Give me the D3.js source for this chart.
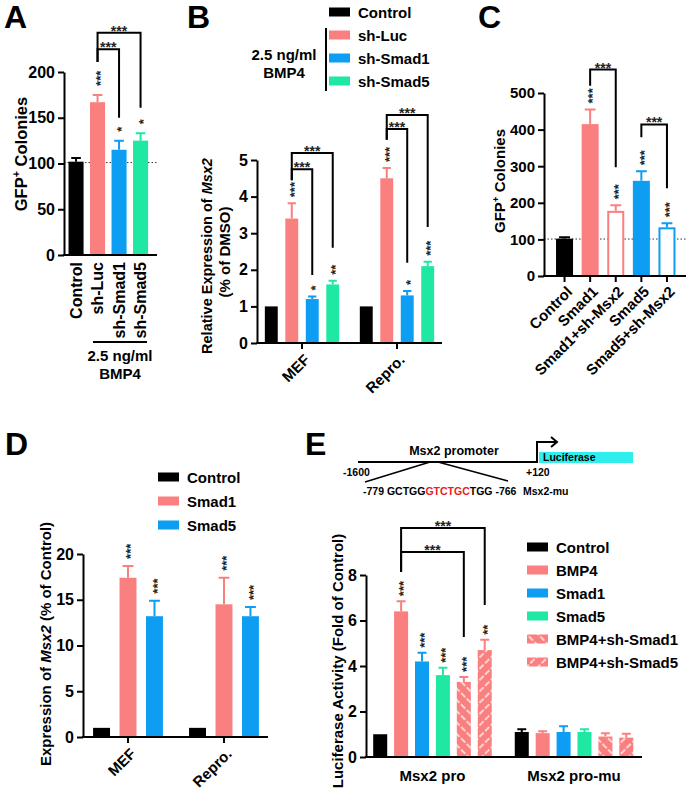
<!DOCTYPE html>
<html>
<head>
<meta charset="utf-8">
<script src="https://cdn.jsdelivr.net/npm/d3@7"></script>
<style>
  body { margin: 0; background: #fff; }
  svg { display: block; }
</style>
</head>
<body>
<script>
// ---- data ----
const aCats = ['Control', 'sh-Luc', 'sh-Smad1', 'sh-Smad5']
const aMean = [102, 167, 115, 125]
const aErr = [4, 8, 10, 8]
const aStars = ['', '***', '*', '*']

const bGroups = ['MEF', 'Repro.']
const bSeries = ['Control', 'sh-Luc', 'sh-Smad1', 'sh-Smad5']
const bMean = [[1, 3.4, 1.2, 1.6], [1, 4.5, 1.3, 2.1]]
const bErr = [[0, 0.42, 0.07, 0.1], [0, 0.28, 0.12, 0.12]]
const bStars = [['', '***', '*', '**'], ['', '***', '*', '***']]

const cCats = ['Control', 'Smad1', 'Smad1+sh-Msx2', 'Smad5', 'Smad5+sh-Msx2']
const cMean = [102, 415, 178, 260, 133]
const cErr = [4, 40, 15, 26, 11]
const cStars = ['', '***', '***', '***', '***']

const dGroups = ['MEF', 'Repro.']
const dSeries = ['Control', 'Smad1', 'Smad5']
const dMean = [[1, 17.4, 13.2], [1, 14.5, 13.2]]
const dErr = [[0, 1.3, 1.7], [0, 2.9, 1.0]]
const dStars = [['', '***', '***'], ['', '***', '***']]

const eGroups = ['Msx2 pro', 'Msx2 pro-mu']
const eSeries = ['Control', 'BMP4', 'Smad1', 'Smad5', 'BMP4+sh-Smad1', 'BMP4+sh-Smad5']
const eMean = [[1, 6.4, 4.2, 3.6, 3.3, 4.7], [1.1, 1.05, 1.1, 1.1, 0.9, 0.85]]
const eErr = [[0, 0.45, 0.38, 0.32, 0.22, 0.45], [0.12, 0.08, 0.25, 0.12, 0.14, 0.17]]
const eStars = [['', '***', '***', '***', '***', '**'], ['', '', '', '', '', '']]

// comparison brackets [from, to, level, left leg end, right leg end] (data units)
const aBrackets = [[1, 3, 243, 211, 161], [1, 2, 225, 211, 150]]
const bBrackets = [[0, 1, 3, 5.19, 4.45, 2.6], [0, 1, 2, 4.75, 4.45, 1.86],
  [1, 1, 3, 6.23, 5.55, 3.17], [1, 1, 2, 5.85, 5.55, 2.19]]
const cBrackets = [[1, 2, 564, 520, 297], [3, 4, 414, 379, 240]]
const eBrackets = [[0, 1, 5, 10.07, 8.13, 6.68], [0, 1, 4, 9.01, 8.13, 5.27]]

// ---- style ----
const font = 'Liberation Sans, Arial, Helvetica, sans-serif'
const black = '#000000'
const salmon = '#fa7f7f'
const blue = '#0d9df2'
const green = '#1fe8a3'
const cyan = '#30eeee'

const svg = d3.select('body').append('svg')
  .attr('width', 686).attr('height', 794)
  .style('font-family', font).style('font-weight', 'bold')

const defs = svg.append('defs')
function hatch (id, angle) {
  const p = defs.append('pattern').attr('id', id)
    .attr('patternUnits', 'userSpaceOnUse')
    .attr('width', 8).attr('height', 8)
    .attr('patternTransform', 'rotate(' + angle + ')')
  p.append('rect').attr('width', 8).attr('height', 8).attr('fill', salmon)
  p.append('line').attr('x1', 4).attr('x2', 4).attr('y1', 0).attr('y2', 8)
    .attr('stroke', '#fff').attr('stroke-width', 1.3).attr('stroke-dasharray', '6,2')
}
hatch('hatchA', -45)
hatch('hatchB', 45)

// ---- helpers ----
function leftAxis (y, x0, values, size) {
  const ax = svg.append('g').attr('transform', 'translate(' + x0 + ',0)')
    .call(d3.axisLeft(y).tickValues(values).tickFormat(d3.format('d'))
      .tickSize(6).tickSizeOuter(0).tickPadding(3))
    .attr('font-family', font).attr('font-size', size)
  ax.select('.domain').attr('stroke-width', 2)
  ax.selectAll('.tick line').attr('stroke-width', 2)
  ax.selectAll('.tick text').attr('fill', '#000')
}

function baseLine (x0, x1, yy) {
  svg.append('line').attr('x1', x0 - 1).attr('x2', x1).attr('y1', yy).attr('y2', yy)
    .attr('stroke', '#000').attr('stroke-width', 2)
}

function ticksDown (xs, yy) {
  svg.selectAll(null).data(xs).enter().append('line')
    .attr('x1', d => d).attr('x2', d => d).attr('y1', yy).attr('y2', yy + 6)
    .attr('stroke', '#000').attr('stroke-width', 2)
}

function dotted (x0, x1, yy) {
  svg.append('line').attr('x1', x0).attr('x2', x1).attr('y1', yy).attr('y2', yy)
    .attr('stroke', '#333').attr('stroke-width', 1).attr('stroke-dasharray', '1.5,2')
}

function barSet (rows, y, gap) {
  const g = svg.append('g')
  g.selectAll(null).data(rows).enter().append('rect')
    .attr('x', d => d.open ? d.x + 1 : d.x)
    .attr('y', d => y(d.v) + (d.open ? 1 : 0))
    .attr('width', d => d.open ? d.w - 2 : d.w)
    .attr('height', d => y(0) - y(d.v) - (d.open ? 1 : 0))
    .attr('fill', d => d.fill)
    .attr('stroke', d => d.open ? d.line : 'none')
    .attr('stroke-width', 2)
  g.selectAll(null).data(rows.filter(d => d.e > 0)).enter().append('path')
    .attr('d', d => {
      const cx = d.x + d.w / 2
      const t = y(d.v + d.e)
      const hw = d.w * 0.32
      return 'M' + cx + ',' + y(d.v) + 'V' + t + 'M' + (cx - hw) + ',' + t + 'H' + (cx + hw)
    })
    .attr('fill', 'none').attr('stroke', d => d.line).attr('stroke-width', 2)
  g.selectAll(null).data(rows.filter(d => d.star)).enter().append('text')
    .attr('transform', d => 'translate(' + (d.x + d.w / 2) + ',' + (y(d.v + d.e) - gap) + ') rotate(-90)')
    .attr('dy', '0.56em').attr('font-size', 13).attr('fill', '#222')
    .text(d => d.star)
}

function bracket (x1, x2, yl, ya, yb) {
  svg.append('path').attr('d', 'M' + x1 + ',' + ya + 'V' + yl + 'H' + x2 + 'V' + yb)
    .attr('fill', 'none').attr('stroke', '#000').attr('stroke-width', 2)
  svg.append('text').attr('x', (x1 + x2) / 2).attr('y', yl + 3)
    .attr('text-anchor', 'middle').attr('font-size', 14).attr('fill', '#222').text('***')
}

function legend (names, fills, x, y0, step, size) {
  const g = svg.append('g')
  names.forEach((n, i) => {
    const cy = y0 + i * step
    g.append('rect').attr('x', x).attr('y', cy - 4.5).attr('width', 21).attr('height', 9).attr('fill', fills[i])
    g.append('text').attr('x', x + 29).attr('y', cy + 5.5).attr('font-size', size).text(n)
  })
}

function yLabel (x, cy, size, parts) {
  const t = svg.append('text').attr('transform', 'translate(' + x + ',' + cy + ') rotate(-90)')
    .attr('text-anchor', 'middle').attr('font-size', size)
  parts.forEach(p => {
    const s = t.append('tspan').text(p.t)
    if (p.i) s.attr('font-style', 'italic')
    if (p.sup) s.attr('font-size', size * 0.65).attr('dy', -size * 0.4)
    if (p.down) s.attr('dy', size * 0.4)
  })
}

function angledLabels (xs, names, yy, size) {
  svg.selectAll(null).data(names).enter().append('text')
    .attr('transform', (d, i) => 'translate(' + (xs[i] + 5) + ',' + yy + ') rotate(-45)')
    .attr('text-anchor', 'end').attr('dy', '0.35em').attr('font-size', size)
    .text(d => d)
}

function panelLetter (t, x, y) {
  svg.append('text').attr('x', x).attr('y', y).attr('font-size', 32).text(t)
}

// ---- panel A ----
{
  const y = d3.scaleLinear().domain([0, 200]).range([255, 72])
  const x = d3.scaleBand().domain(aCats).range([64, 152.6]).paddingInner(0.3).paddingOuter(0.21)
  const cols = [black, salmon, blue, green]
  dotted(64, 157, y(101))
  barSet(aCats.map((c, i) => ({ x: x(c), w: x.bandwidth(), v: aMean[i], e: aErr[i], fill: cols[i], line: cols[i], star: aStars[i] })), y, 9)
  leftAxis(y, 64, [0, 50, 100, 150, 200], 16)
  baseLine(64, 157, y(0))
  const cx = c => x(aCats[c]) + x.bandwidth() / 2
  aBrackets.forEach(b => bracket(cx(b[0]), cx(b[1]), y(b[2]), y(b[3]), y(b[4])))
  svg.selectAll(null).data(aCats).enter().append('text')
    .attr('transform', d => 'translate(' + (x(d) + x.bandwidth() / 2) + ',262) rotate(-90)')
    .attr('text-anchor', 'end').attr('dy', '0.35em').attr('font-size', 16).text(d => d)
  svg.append('line').attr('x1', 93).attr('x2', 147).attr('y1', 342).attr('y2', 342)
    .attr('stroke', '#000').attr('stroke-width', 2)
  svg.append('text').attr('x', 120).attr('y', 361).attr('text-anchor', 'middle').attr('font-size', 15).text('2.5 ng/ml')
  svg.append('text').attr('x', 120).attr('y', 379).attr('text-anchor', 'middle').attr('font-size', 15).text('BMP4')
  yLabel(27, 154, 16.5, [{ t: 'GFP' }, { t: '+', sup: true }, { t: ' Colonies', down: true }])
  panelLetter('A', 4, 28)
}

// ---- panel B ----
{
  const y = d3.scaleLinear().domain([0, 5]).range([343, 160])
  const x0 = d3.scaleBand().domain(bGroups).range([257, 442]).paddingInner(0.2).paddingOuter(0.074)
  const x1 = d3.scaleBand().domain(bSeries).range([0, x0.bandwidth()]).paddingInner(0.37).paddingOuter(0.04)
  const cols = [black, salmon, blue, green]
  const rows = bGroups.flatMap((gn, gi) => bSeries.map((s, si) => ({
    x: x0(gn) + x1(s), w: x1.bandwidth(), v: bMean[gi][si], e: bErr[gi][si], fill: cols[si], line: cols[si], star: bStars[gi][si]
  })))
  barSet(rows, y, 6)
  leftAxis(y, 257, [0, 1, 2, 3, 4, 5], 16)
  baseLine(257, 442, y(0))
  const gc = bGroups.map(g => x0(g) + x0.bandwidth() / 2)
  ticksDown(gc, y(0))
  angledLabels(gc, bGroups, y(0) + 14, 15)
  const cx = (g, s) => x0(bGroups[g]) + x1(bSeries[s]) + x1.bandwidth() / 2
  bBrackets.forEach(b => bracket(cx(b[0], b[1]), cx(b[0], b[2]), y(b[3]), y(b[4]), y(b[5])))
  yLabel(212, 256, 14.5, [{ t: 'Relative Expression of ' }, { t: 'Msx2', i: true }])
  yLabel(230, 252, 15, [{ t: '(% of DMSO)' }])
  legend(bSeries, cols, 329, 12, 23, 15)
  svg.append('line').attr('x1', 326).attr('x2', 326).attr('y1', 28).attr('y2', 91)
    .attr('stroke', '#000').attr('stroke-width', 2)
  svg.append('text').attr('x', 284).attr('y', 60).attr('text-anchor', 'middle').attr('font-size', 15).text('2.5 ng/ml')
  svg.append('text').attr('x', 284).attr('y', 78).attr('text-anchor', 'middle').attr('font-size', 15).text('BMP4')
  panelLetter('B', 187, 28)
}

// ---- panel C ----
{
  const y = d3.scaleLinear().domain([0, 500]).range([276, 93])
  const x = d3.scaleBand().domain(cCats).range([544, 687.5]).paddingInner(0.336).paddingOuter(0.47)
  const fills = [black, salmon, '#fff', blue, '#fff']
  const lines = [black, salmon, salmon, blue, blue]
  dotted(544, 686, y(101))
  barSet(cCats.map((c, i) => ({ x: x(c), w: x.bandwidth(), v: cMean[i], e: cErr[i], fill: fills[i], line: lines[i], open: fills[i] === '#fff', star: cStars[i] })), y, 6)
  leftAxis(y, 544, [0, 100, 200, 300, 400, 500], 15)
  baseLine(544, 686, y(0))
  const cs = cCats.map(c => x(c) + x.bandwidth() / 2)
  ticksDown(cs, y(0))
  angledLabels(cs, cCats, y(0) + 13, 15)
  cBrackets.forEach(b => bracket(cs[b[0]], cs[b[1]], y(b[2]), y(b[3]), y(b[4])))
  yLabel(505, 181, 15, [{ t: 'GFP' }, { t: '+', sup: true }, { t: ' Colonies', down: true }])
  panelLetter('C', 478, 28)
}

// ---- panel D ----
{
  const y = d3.scaleLinear().domain([0, 20]).range([737, 554])
  const x0 = d3.scaleBand().domain(dGroups).range([83, 269]).paddingInner(0.25).paddingOuter(0.094)
  const x1 = d3.scaleBand().domain(dSeries).range([0, x0.bandwidth()]).paddingInner(0.36).paddingOuter(0.04)
  const cols = [black, salmon, blue]
  const rows = dGroups.flatMap((gn, gi) => dSeries.map((s, si) => ({
    x: x0(gn) + x1(s), w: x1.bandwidth(), v: dMean[gi][si], e: dErr[gi][si], fill: cols[si], line: cols[si], star: dStars[gi][si]
  })))
  barSet(rows, y, 7)
  leftAxis(y, 83, [0, 5, 10, 15, 20], 16)
  baseLine(83, 268, y(0))
  const gc = dGroups.map(g => x0(g) + x0.bandwidth() / 2)
  ticksDown(gc, y(0))
  angledLabels(gc, dGroups, y(0) + 14, 15)
  yLabel(51, 644, 15, [{ t: 'Expression of ' }, { t: 'Msx2', i: true }, { t: ' (% of Control)' }])
  legend(dSeries, cols, 158, 477, 24, 15)
  panelLetter('D', 5, 455)
}

// ---- panel E ----
{
  // promoter schematic
  const s = svg.append('g')
  s.append('path').attr('d', 'M358,462H537V442H557M551,437L557,442L551,447')
    .attr('fill', 'none').attr('stroke', '#000').attr('stroke-width', 2)
  s.append('rect').attr('x', 539).attr('y', 452).attr('width', 94).attr('height', 11).attr('fill', cyan)
  s.append('text').attr('x', 543).attr('y', 461).attr('font-size', 10.5).text('Luciferase')
  s.append('text').attr('x', 454).attr('y', 455).attr('text-anchor', 'middle').attr('font-size', 12.5).text('Msx2 promoter')
  s.append('text').attr('x', 343).attr('y', 476).attr('font-size', 10.5).text('-1600')
  s.append('text').attr('x', 526).attr('y', 476).attr('font-size', 10.5).text('+120')
  s.append('path').attr('d', 'M430,462L365,482M438,462L508,481')
    .attr('fill', 'none').attr('stroke', '#000').attr('stroke-width', 1.5)
  const seq = s.append('text').attr('x', 363).attr('y', 495).attr('font-size', 10.5)
  seq.append('tspan').text('-779 GCTGG')
  seq.append('tspan').attr('fill', '#e8231e').text('GTCTGC')
  seq.append('tspan').text('TGG -766')
  s.append('text').attr('x', 523).attr('y', 495).attr('font-size', 10.5).text('Msx2-mu')

  const y = d3.scaleLinear().domain([0, 8]).range([757, 575])
  const x0 = d3.scaleBand().domain(eGroups).range([366, 640.5]).paddingInner(0.145).paddingOuter(0.042)
  const x1 = d3.scaleBand().domain(eSeries).range([0, x0.bandwidth()]).paddingInner(0.33).paddingOuter(0.06)
  const fills = [black, salmon, blue, green, 'url(#hatchA)', 'url(#hatchB)']
  const lines = [black, salmon, blue, green, salmon, salmon]
  const rows = eGroups.flatMap((gn, gi) => eSeries.map((sr, si) => ({
    x: x0(gn) + x1(sr), w: x1.bandwidth(), v: eMean[gi][si], e: eErr[gi][si], fill: fills[si], line: lines[si], star: eStars[gi][si]
  })))
  barSet(rows, y, 5)
  leftAxis(y, 366, [0, 2, 4, 6, 8], 16)
  baseLine(366, 642, y(0))
  svg.selectAll(null).data(eGroups).enter().append('text')
    .attr('x', d => x0(d) + x0.bandwidth() / 2).attr('y', 781)
    .attr('text-anchor', 'middle').attr('font-size', 15).text(d => d)
  const cx = (g, sI) => x0(eGroups[g]) + x1(eSeries[sI]) + x1.bandwidth() / 2
  eBrackets.forEach(b => bracket(cx(b[0], b[1]), cx(b[0], b[2]), y(b[3]), y(b[4]), y(b[5])))
  yLabel(343, 661, 15, [{ t: 'Luciferase Activity (Fold of Control)' }])
  legend(eSeries, fills, 527, 547, 23, 15)
  panelLetter('E', 305, 455)
}
</script>
</body>
</html>
